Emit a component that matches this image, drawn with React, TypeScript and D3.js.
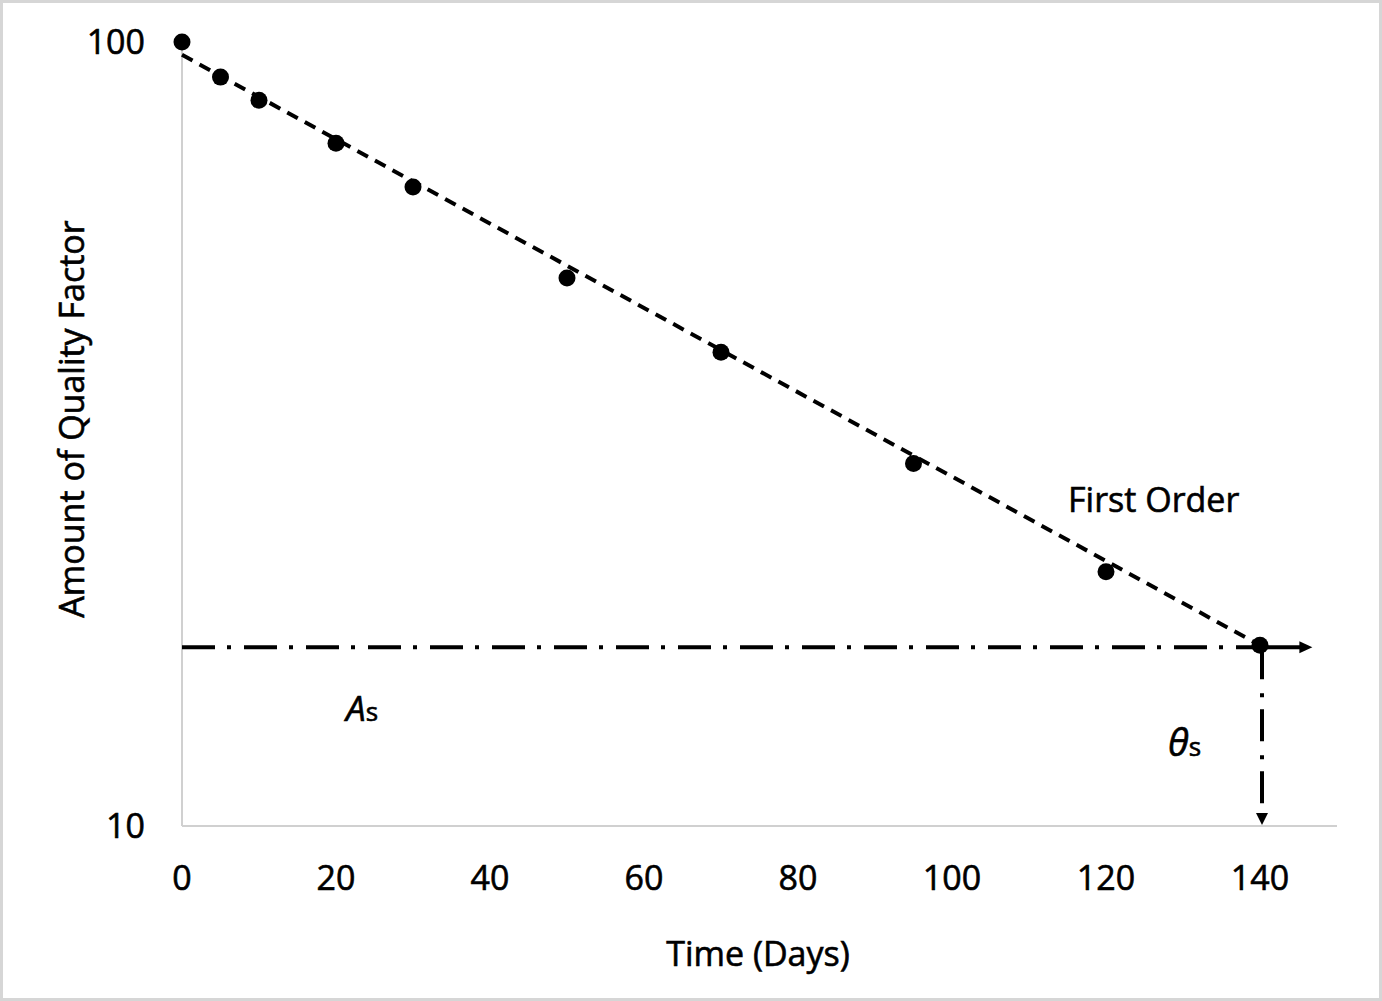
import React from "react";
import * as d3 from "d3";

const days = [0, 5, 10, 20, 30, 50, 70, 95, 120, 140];
const quality = [100, 90.2, 84.3, 74.3, 65.3, 50.0, 40.2, 29.0, 21.1, 17.0];
const fitDays = [0, 140];
const fitQuality = [96.3, 17.0];
const xTicks = [0, 20, 40, 60, 80, 100, 120, 140];
const yTicks = [10, 100];
const shelfQuality = 17.0;
const shelfDay = 140;
const xAxisEnd = 150;
const hArrowEnd = 146.8;

const W = 1382;
const H = 1001;
const FONT = "'Open Sans', 'DejaVu Sans', sans-serif";
const TXT = { fill: "#000", stroke: "#000", strokeWidth: 0.6 };

export default function App() {
  const x = d3.scaleLinear().domain([0, 140]).range([182, 1260]);
  const y = d3.scaleLog().domain([10, 100]).range([826, 42]);

  const fitLine = d3
    .line<number>()
    .x((_, i) => x(fitDays[i]))
    .y((_, i) => y(fitQuality[i]))(fitDays);

  const ys = y(shelfQuality) + 2;
  const xs = x(shelfDay) + 2;
  const hx2 = x(hArrowEnd);
  const vy2 = y(10);

  return (
    <svg
      width={W}
      height={H}
      style={{ position: "absolute", left: 0, top: 0, background: "#fff" }}
      fontFamily={FONT}
    >
      <rect x={1.5} y={1.5} width={W - 3} height={H - 3} fill="#fff" stroke="#d6d6d6" strokeWidth={3} />

      {/* axes */}
      <line x1={x(0)} x2={x(0)} y1={y(100)} y2={y(10)} stroke="#d0d0d0" strokeWidth={2} />
      <line x1={x(0)} x2={x(xAxisEnd)} y1={y(10)} y2={y(10)} stroke="#d0d0d0" strokeWidth={2} />

      {/* tick labels */}
      {xTicks.map((t) => (
        <text key={t} x={x(t)} y={890} textAnchor="middle" fontSize={34} {...TXT}>
          {t}
        </text>
      ))}
      {yTicks.map((t) => (
        <text key={t} x={145} y={y(t) + 12} textAnchor="end" fontSize={34} {...TXT}>
          {t}
        </text>
      ))}

      {/* axis titles */}
      <text x={758} y={966} textAnchor="middle" fontSize={34} {...TXT}>
        Time (Days)
      </text>
      <text transform={`translate(84,419) rotate(-90)`} textAnchor="middle" fontSize={34} {...TXT}>
        Amount of Quality Factor
      </text>

      {/* shelf-life guide lines */}
      <line
        x1={x(0)}
        x2={xs}
        y1={ys}
        y2={ys}
        stroke="#000"
        strokeWidth={4}
        strokeDasharray="33 12 4 13"
      />
      <line x1={xs} x2={hx2 - 10} y1={ys} y2={ys} stroke="#000" strokeWidth={4} />
      <path d={`M${hx2},${ys} L${hx2 - 13},${ys - 6} L${hx2 - 13},${ys + 6} Z`} fill="#000" />
      <line
        x1={xs}
        x2={xs}
        y1={ys}
        y2={vy2 - 12}
        stroke="#000"
        strokeWidth={4}
        strokeDasharray="32 14 4 12"
      />
      <path d={`M${xs},${vy2 - 1} L${xs - 6},${vy2 - 13} L${xs + 6},${vy2 - 13} Z`} fill="#000" />

      {/* fit line */}
      <path d={fitLine || ""} fill="none" stroke="#000" strokeWidth={4} strokeDasharray="12 8" />

      {/* points */}
      {days.map((d, i) => (
        <circle key={d} cx={x(d)} cy={y(quality[i])} r={8.5} fill="#000" />
      ))}

      {/* annotations */}
      <text x={1068} y={512} fontSize={34} {...TXT}>
        First Order
      </text>
      <text x={346} y={721} fontSize={35} {...TXT}>
        <tspan fontStyle="italic">A</tspan>
        <tspan fontSize={26}>s</tspan>
      </text>
      <text x={1168} y={756} fontSize={38} {...TXT}>
        <tspan fontStyle="italic">θ</tspan>
        <tspan fontSize={26}>s</tspan>
      </text>
    </svg>
  );
}
